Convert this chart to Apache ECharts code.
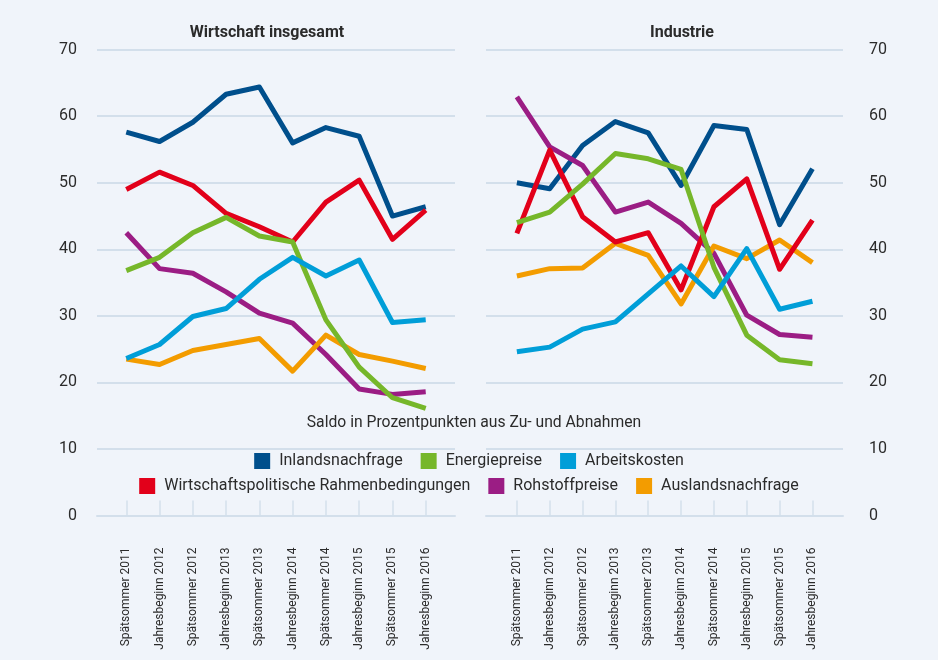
<!DOCTYPE html>
<html>
<head>
<meta charset="utf-8">
<script src="https://cdn.jsdelivr.net/npm/echarts@6/dist/echarts.min.js"></script>
<style>
html,body{margin:0;padding:0;background:#f0f4fa;}
#chart{width:938px;height:660px;}
</style>
</head>
<body>
<div id="chart"></div>
<script>
const categories = ['Spätsommer 2011','Jahresbeginn 2012','Spätsommer 2012','Jahresbeginn 2013','Spätsommer 2013','Jahresbeginn 2014','Spätsommer 2014','Jahresbeginn 2015','Spätsommer 2015','Jahresbeginn 2016'];
const seriesNames = ['Inlandsnachfrage','Energiepreise','Arbeitskosten','Wirtschaftspolitische Rahmenbedingungen','Rohstoffpreise','Auslandsnachfrage'];
const yTicks = [0,10,20,30,40,50,60,70];

// Wirtschaft insgesamt
const gesInland   = [57.6,56.2,59.1,63.3,64.4,56.0,58.3,57.0,45.0,46.4];
const gesEnergie  = [36.8,38.8,42.5,44.8,42.0,41.1,29.4,22.3,17.7,16.1];
const gesArbeit   = [23.6,25.7,29.9,31.1,35.5,38.8,36.0,38.4,29.0,29.4];
const gesWirtPol  = [49.0,51.6,49.6,45.4,43.4,41.1,47.1,50.4,41.5,45.9];
const gesRohstoff = [42.5,37.1,36.4,33.6,30.4,28.9,24.2,19.0,18.2,18.6];
const gesAusland  = [23.5,22.7,24.8,25.7,26.6,21.7,27.1,24.2,23.2,22.1];

// Industrie
const indInland   = [50.0,49.1,55.6,59.2,57.5,49.6,58.6,58.0,43.7,52.1];
const indEnergie  = [44.0,45.6,49.8,54.4,53.6,52.0,37.3,27.1,23.4,22.8];
const indArbeit   = [24.6,25.3,28.0,29.1,33.3,37.5,32.9,40.1,31.0,32.2];
const indWirtPol  = [42.4,54.9,44.9,41.1,42.5,33.9,46.4,50.6,37.0,44.4];
const indRohstoff = [62.9,55.4,52.6,45.6,47.1,43.9,39.4,30.1,27.2,26.8];
const indAusland  = [36.0,37.1,37.2,40.9,39.1,31.8,40.5,38.6,41.4,38.0];

const colors = {
  'Inlandsnachfrage':'#004f8c',
  'Energiepreise':'#76b72a',
  'Arbeitskosten':'#009ed8',
  'Wirtschaftspolitische Rahmenbedingungen':'#e2001a',
  'Rohstoffpreise':'#9b1d84',
  'Auslandsnachfrage':'#f39c00'
};

const gesData = {
  'Inlandsnachfrage':gesInland,'Energiepreise':gesEnergie,'Arbeitskosten':gesArbeit,
  'Wirtschaftspolitische Rahmenbedingungen':gesWirtPol,'Rohstoffpreise':gesRohstoff,'Auslandsnachfrage':gesAusland
};
const indData = {
  'Inlandsnachfrage':indInland,'Energiepreise':indEnergie,'Arbeitskosten':indArbeit,
  'Wirtschaftspolitische Rahmenbedingungen':indWirtPol,'Rohstoffpreise':indRohstoff,'Auslandsnachfrage':indAusland
};

const FONT = 'Roboto';
const TXT = '#2b2b2b';
const GRIDC = '#d3dfeb';
const idx = categories.map((c,i)=>i);

function xAxis(gridIndex, min, max){
  return {
    type:'value', gridIndex, min, max,
    splitLine:{show:false},
    axisLine:{show:true, lineStyle:{color:GRIDC, width:2}},
    axisTick:{show:true, inside:true, length:15, customValues:idx, lineStyle:{color:GRIDC, width:1.5}},
    axisLabel:{show:true, customValues:idx, rotate:90, margin:32, fontFamily:FONT, fontSize:12, color:TXT,
      formatter:(v)=>categories[Math.round(v)]}
  };
}
function yAxis(gridIndex, position, margin){
  return {
    type:'value', gridIndex, position, min:0, max:70, interval:10,
    axisLine:{show:false}, axisTick:{show:false},
    splitLine:{show:true, lineStyle:{color:GRIDC, width:2}},
    axisLabel:{show:true, margin, fontFamily:FONT, fontSize:16, color:TXT,
      align: position==='right' ? 'left' : 'right',
      formatter:(v)=> yTicks.includes(v) ? String(v) : ''}
  };
}

const drawOrder = ['Inlandsnachfrage','Rohstoffpreise','Auslandsnachfrage','Wirtschaftspolitische Rahmenbedingungen','Energiepreise','Arbeitskosten'];
const series = [];
[[0,gesData],[1,indData]].forEach(([g,data])=>{
  drawOrder.forEach(name=>{
    series.push({
      name, type:'line', xAxisIndex:g, yAxisIndex:g,
      data: data[name].map((v,i)=>[i,v]),
      showSymbol:false, symbol:'none',
      lineStyle:{width:5, color:colors[name], join:'round'},
      itemStyle:{color:colors[name]},
      silent:true, animation:false
    });
  });
});

const legendCommon = {
  icon:'rect', itemWidth:16, itemHeight:16, itemGap:18, left:'center', padding:0,
  orient:'horizontal', selectedMode:false,
  textStyle:{fontFamily:FONT, fontSize:16, color:TXT, padding:[0,0,0,4]}
};

const option = {
  backgroundColor:'#f0f4fa',
  animation:false,
  color: seriesNames.map(n=>colors[n]),
  title:[
    {text:'Wirtschaft insgesamt', left:262, top:20, textAlign:'center',
      textStyle:{fontFamily:FONT, fontSize:16, fontWeight:'bold', color:TXT}},
    {text:'Industrie', left:677, top:20, textAlign:'center',
      textStyle:{fontFamily:FONT, fontSize:16, fontWeight:'bold', color:TXT}},
    {text:'Saldo in Prozentpunkten aus Zu- und Abnahmen', left:469, top:410, textAlign:'center',
      textStyle:{fontFamily:FONT, fontSize:15.7, fontWeight:'normal', color:TXT}}
  ],
  legend:[
    Object.assign({}, legendCommon, {top:453, data:seriesNames.slice(0,3)}),
    Object.assign({}, legendCommon, {top:478, data:seriesNames.slice(3)})
  ],
  grid:[
    {left:97, top:49.7, width:358, height:465.8},
    {left:486, top:49.7, width:357, height:465.8}
  ],
  xAxis:[xAxis(0,-0.88,9.88), xAxis(1,-0.94,9.93)],
  yAxis:[yAxis(0,'left',20), yAxis(1,'right',26)],
  series
};

const chart = echarts.init(document.getElementById('chart'), null, {renderer:'canvas'});
chart.setOption(option);
</script>
</body>
</html>
